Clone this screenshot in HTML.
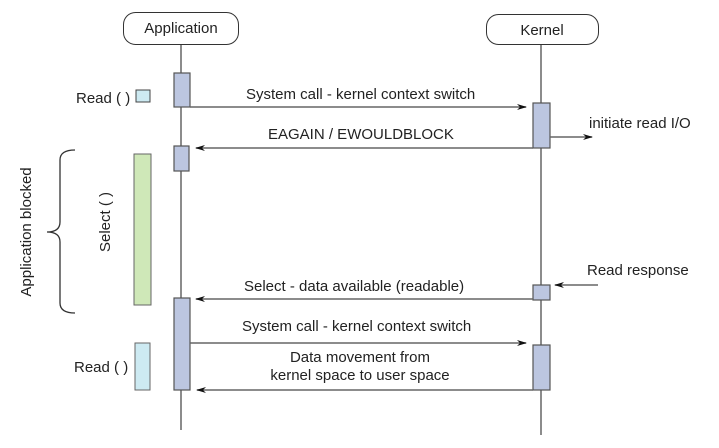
<!DOCTYPE html><html><head><style>body{margin:0;background:#fff}</style></head><body>
<svg width="719" height="443" xmlns="http://www.w3.org/2000/svg" font-family="Liberation Sans, sans-serif" font-size="15" fill="#222">
<defs><marker id="a" markerWidth="10" markerHeight="8" refX="9" refY="4" orient="auto" markerUnits="userSpaceOnUse"><path d="M0,1 L10,4 L0,7 L3,4z" fill="#111"/></marker></defs>
<g stroke="#666" stroke-width="1.5">
<line x1="181" y1="44" x2="181" y2="430"/><line x1="541" y1="44" x2="541" y2="435"/></g>
<rect x="123.5" y="12.5" width="115" height="32" rx="12" fill="#fff" stroke="#333"/>
<text x="181" y="33" text-anchor="middle">Application</text>
<rect x="486.5" y="14.5" width="112" height="30" rx="12" fill="#fff" stroke="#333"/>
<text x="542" y="35" text-anchor="middle">Kernel</text>
<g fill="#bcc6e0" stroke="#555" stroke-width="1.2">
<rect x="174" y="73" width="16" height="34"/><rect x="174" y="146" width="15" height="25"/><rect x="174" y="298" width="16" height="92"/>
<rect x="533" y="103" width="17" height="45"/><rect x="533" y="285" width="17" height="15"/><rect x="533" y="345" width="17" height="45"/></g>
<rect x="136" y="90" width="14" height="12" fill="#cdeaf2" stroke="#444"/>
<rect x="134" y="154" width="17" height="151" fill="#cfe8b8" stroke="#666"/>
<rect x="135" y="343" width="15" height="47" fill="#cdeaf2" stroke="#666"/>
<g stroke="#666" stroke-width="1.5" marker-end="url(#a)">
<line x1="190" y1="107" x2="526" y2="107"/><line x1="533" y1="148" x2="196" y2="148"/>
<line x1="550" y1="137" x2="592" y2="137"/><line x1="533" y1="299" x2="196" y2="299"/>
<line x1="598" y1="285" x2="555" y2="285"/><line x1="190" y1="343" x2="526" y2="343"/>
<line x1="533" y1="390" x2="197" y2="390"/></g>
<path d="M75,150 Q60,150 60,160 L60,222 Q60,232 47,232 Q60,232 60,242 L60,303 Q60,313 75,313" fill="none" stroke="#333" stroke-width="1.3"/>
<text x="76" y="103">Read ( )</text>
<text x="74" y="372">Read ( )</text>
<text x="246" y="99">System call - kernel context switch</text>
<text x="268" y="139">EAGAIN / EWOULDBLOCK</text>
<text x="589" y="128">initiate read I/O</text>
<text x="587" y="275">Read response</text>
<text x="244" y="291">Select - data available (readable)</text>
<text x="242" y="331">System call - kernel context switch</text>
<text x="360" y="362" text-anchor="middle">Data movement from</text>
<text x="360" y="380" text-anchor="middle">kernel space to user space</text>
<text transform="translate(110,222) rotate(-90)" text-anchor="middle">Select ( )</text>
<text transform="translate(31,232) rotate(-90)" text-anchor="middle">Application blocked</text>
</svg></body></html>
